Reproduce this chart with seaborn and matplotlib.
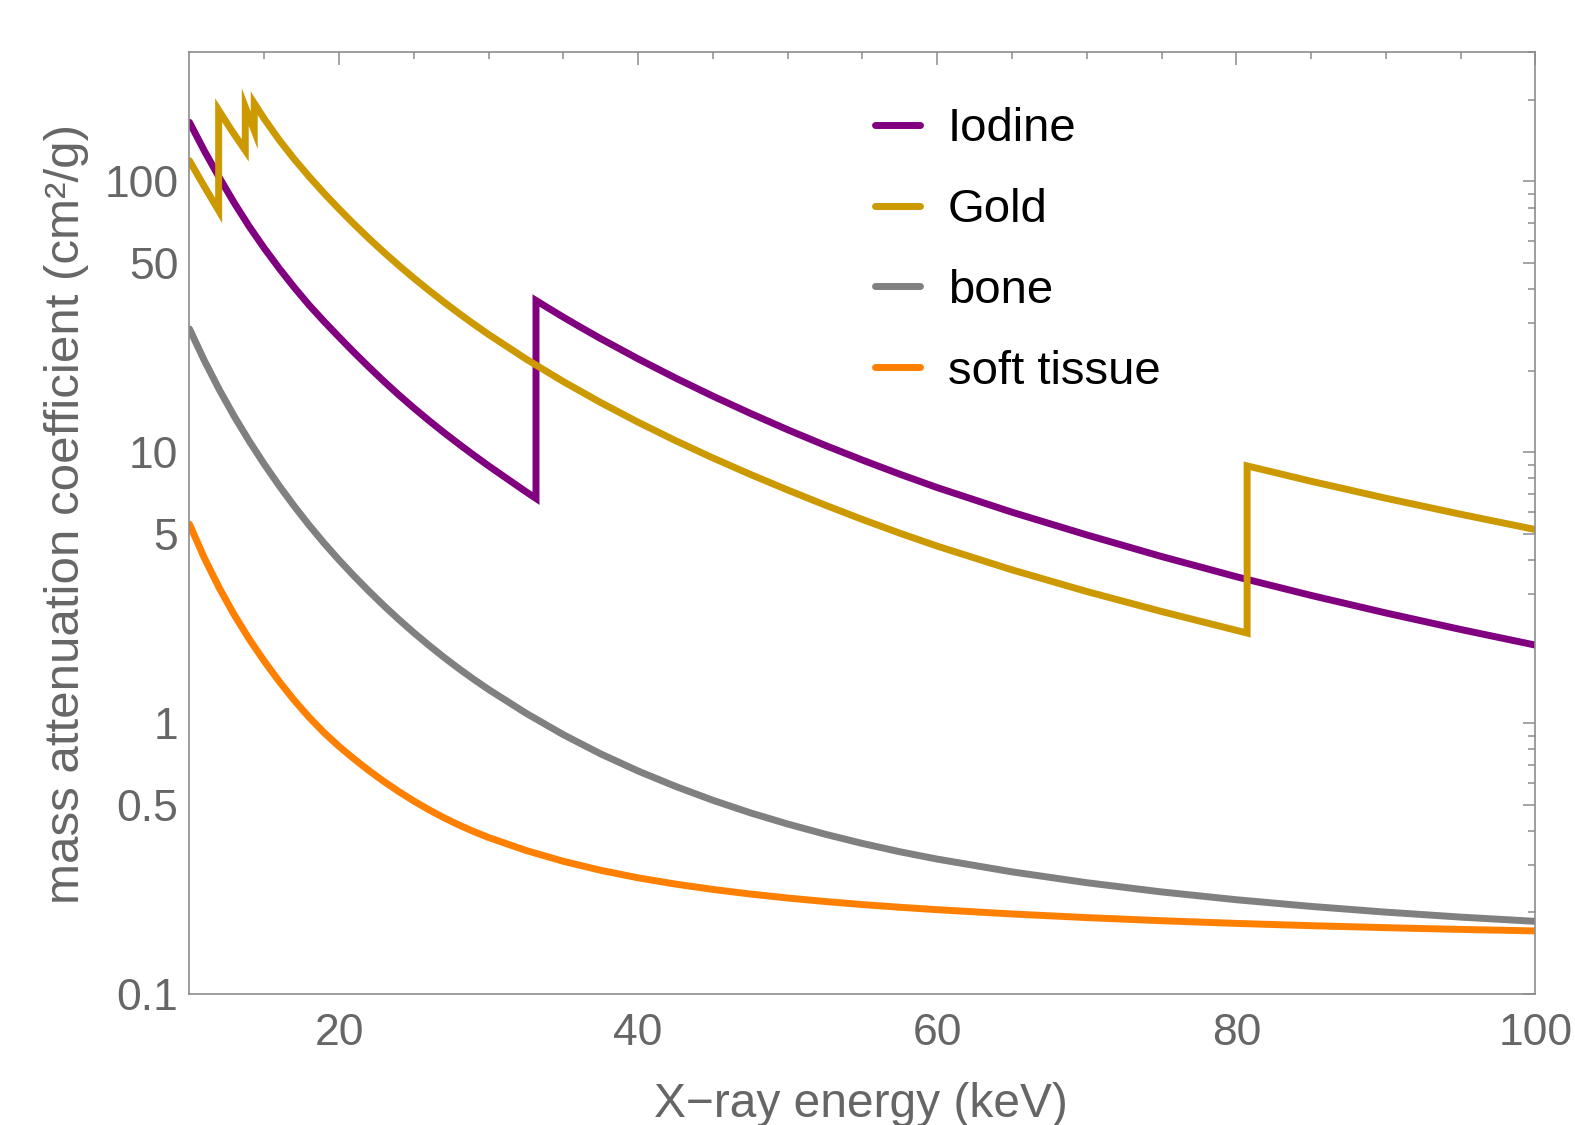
import numpy as np
import pandas as pd
import matplotlib
matplotlib.use("Agg")
import matplotlib.pyplot as plt
from matplotlib.ticker import FixedLocator, NullFormatter, FixedFormatter
import seaborn as sns

# ------------------------------------------
# data (keV, cm^2/g)
# repeated energies = absorption edges
# ------------------------------------------
energy_grid = [10, 11, 12, 13, 14, 15, 16, 17, 18, 19, 20, 21, 22, 23, 24, 25, 26, 27, 28, 29,
               30, 32.5, 35, 37.5, 40, 42.5, 45, 47.5, 50, 52.5, 55, 57.5, 60, 65, 70, 75, 80,
               85, 90, 95, 100]

energy_iodine = [10, 11, 12, 13, 14, 15, 16, 17, 18, 19, 20, 21, 22, 23, 24, 25, 26, 27, 28, 29,
                 30, 32.5, 33.17, 33.17, 34, 35, 36, 37.5, 40, 42.5, 45, 47.5, 50, 52.5, 55,
                 57.5, 60, 65, 70, 75, 80, 85, 90, 95, 100]
mu_iodine = [165, 129.3, 103, 83.07, 68, 56.6, 47.7, 40.59, 34.9, 30.37, 26.6, 23.36, 20.61,
             18.26, 16.26, 14.56, 13.1, 11.83, 10.73, 9.759, 8.9, 7.142, 6.75,
             36.3, 34.01, 31.5, 29.24, 26.24, 22.1, 18.78, 16.1, 13.91, 12.1, 10.6, 9.35,
             8.293, 7.4, 6.004, 4.95, 4.12, 3.47, 2.96, 2.55, 2.216, 1.94]

energy_gold = [10, 11, 11.95, 11.95, 12.8, 13.73, 13.73, 14.33, 14.33, 15, 16, 17, 18, 19, 20,
               21, 22, 23, 24, 25, 26, 27, 28, 29, 30, 32.5, 35, 37.5, 40, 42.5, 45, 47.5, 50,
               52.5, 55, 57.5, 60, 65, 70, 75, 80, 80.72, 80.72, 85, 90, 95, 100]
mu_gold = [119, 95.5, 78, 183, 154.5, 130, 188, 154, 194, 170, 142, 120.8, 104, 90.31, 79,
           69.5, 61.49, 54.68, 48.88, 43.9, 39.6, 35.85, 32.59, 29.72, 27.2, 22.08, 18.22,
           15.24, 12.9, 11.03, 9.52, 8.281, 7.25, 6.38, 5.644, 5.023, 4.5, 3.678, 3.06, 2.582,
           2.2, 2.15, 8.9, 7.81, 6.76, 5.9, 5.18]

mu_bone = [28.5, 21.75, 16.99, 13.54, 10.98, 9.03, 7.517, 6.325, 5.377, 4.616, 4.0, 3.493,
           3.069, 2.713, 2.412, 2.157, 1.939, 1.752, 1.591, 1.452, 1.331, 1.088, 0.9063,
           0.7697, 0.6655, 0.5841, 0.519, 0.4666, 0.4242, 0.3891, 0.3596, 0.3351, 0.3148,
           0.2825, 0.2576, 0.2382, 0.2229, 0.2106, 0.2006, 0.1923, 0.1855]

mu_tissue = [5.42, 4.062, 3.147, 2.506, 2.04, 1.693, 1.425, 1.215, 1.051, 0.922, 0.8205,
             0.7379, 0.6681, 0.6089, 0.5587, 0.5158, 0.4792, 0.4479, 0.4211, 0.398, 0.3783,
             0.3388, 0.309, 0.2862, 0.2685, 0.2546, 0.2433, 0.234, 0.2262, 0.2196, 0.2139,
             0.2091, 0.2048, 0.1975, 0.1915, 0.1865, 0.1823, 0.1788, 0.1758, 0.1732, 0.171]

materials = ["Iodine", "Gold", "bone", "soft tissue"]
colors = ["#800080", "#CC9900", "#808080", "#FF8000"]

y_major = [0.1, 0.5, 1, 5, 10, 50, 100]
y_major_labels = ["0.1", "0.5", "1", "5", "10", "50", "100"]
x_major = [20, 40, 60, 80, 100]

df = pd.concat([
    pd.DataFrame({"energy": energy_iodine, "mu": mu_iodine, "material": "Iodine"}),
    pd.DataFrame({"energy": energy_gold, "mu": mu_gold, "material": "Gold"}),
    pd.DataFrame({"energy": energy_grid, "mu": mu_bone, "material": "bone"}),
    pd.DataFrame({"energy": energy_grid, "mu": mu_tissue, "material": "soft tissue"}),
], ignore_index=True)

sns.set_style("white")
plt.rcParams["font.family"] = ["Liberation Sans", "DejaVu Sans"]

frame_col = "#8c8c8c"
text_col = "#666666"

fig = plt.figure(figsize=(15.75, 11.25), dpi=100)
ax = fig.add_axes([0.1203, 0.1164, 0.8546, 0.8374])

sns.lineplot(data=df, x="energy", y="mu", hue="material", hue_order=materials,
             palette=dict(zip(materials, colors)), estimator=None, sort=False,
             linewidth=5.0, ax=ax)
for ln in ax.get_lines():
    ln.set_solid_joinstyle("miter")

ax.set_yscale("log")
ax.set_xlim(10, 100)
ax.set_ylim(0.1, 300)

# log ticks like the original: 1..9 multiples, labels only on 1 and 5
y_minor = [m * 10.0 ** d for d in range(-1, 3) for m in range(2, 10) if m != 5]
ax.yaxis.set_major_locator(FixedLocator(y_major))
ax.yaxis.set_major_formatter(FixedFormatter(y_major_labels))
ax.yaxis.set_minor_locator(FixedLocator(y_minor))
ax.yaxis.set_minor_formatter(NullFormatter())
ax.xaxis.set_major_locator(FixedLocator(x_major))
ax.xaxis.set_minor_locator(FixedLocator(list(range(15, 100, 5))))

ax.tick_params(which="both", direction="in", top=True, right=True, color=frame_col,
               labelcolor=text_col, labelsize=32, width=1.1)
ax.tick_params(which="major", length=9)
ax.tick_params(which="minor", length=5)
ax.tick_params(axis="x", which="major", pad=14)
ax.tick_params(axis="y", which="major", pad=8)

for sp in ax.spines.values():
    sp.set_color(frame_col)
    sp.set_linewidth(1.2)

ax.set_xlabel("X\u2212ray energy (keV)", fontsize=34.5, color=text_col)
ax.set_ylabel("mass attenuation coefficient (cm\u00b2/g)", fontsize=35.5, color=text_col)
ax.xaxis.set_label_coords(0.499, -0.093)
ax.yaxis.set_label_coords(-0.075, 0.51)

leg = ax.legend(loc="upper left", bbox_to_anchor=(0.5404, 0.9256),
                bbox_transform=fig.transFigure, frameon=False, fontsize=34,
                handlelength=0.95, handletextpad=0.6, labelspacing=0.78, borderpad=0)
for t in leg.get_texts():
    t.set_color("black")

fig.savefig("out.png", dpi=100)
